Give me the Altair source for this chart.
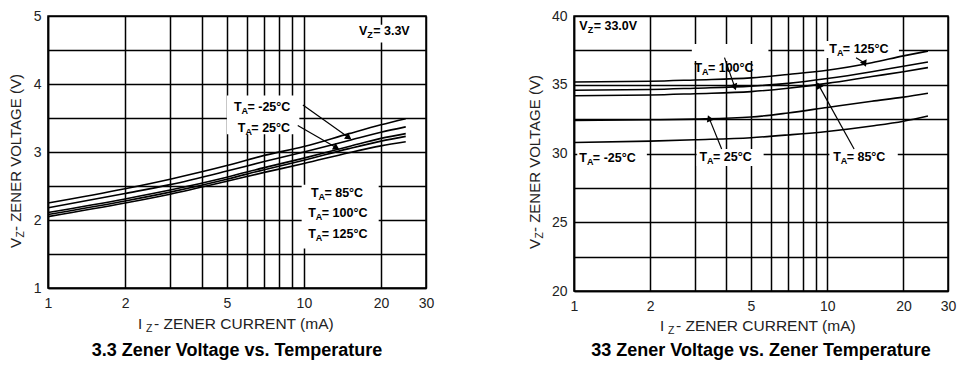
import altair as alt
import pandas as pd

F = "Liberation Sans"

# ---------------- data ----------------
current = [1, 2, 3, 5, 7, 10, 15, 20, 25]
temps = ["-25°C", "25°C", "85°C", "100°C", "125°C"]

# 3.3 V zener
v33_m25 = [2.25, 2.46, 2.60, 2.80, 2.95, 3.08, 3.27, 3.40, 3.49]
v33_25 = [2.18, 2.39, 2.52, 2.72, 2.86, 3.00, 3.17, 3.29, 3.37]
v33_85 = [2.11, 2.31, 2.44, 2.63, 2.77, 2.91, 3.08, 3.20, 3.27]
v33_100 = [2.08, 2.28, 2.41, 2.60, 2.74, 2.88, 3.05, 3.16, 3.23]
v33_125 = [2.05, 2.25, 2.38, 2.57, 2.70, 2.83, 2.99, 3.09, 3.15]

# 33 V zener
v330_m25 = [30.8, 30.9, 31.0, 31.15, 31.35, 31.6, 32.0, 32.35, 32.73]
v330_25 = [32.4, 32.45, 32.5, 32.65, 32.95, 33.35, 33.8, 34.1, 34.38]
v330_85 = [34.2, 34.25, 34.35, 34.5, 34.75, 35.1, 35.6, 35.95, 36.25]
v330_100 = [34.6, 34.65, 34.75, 34.9, 35.1, 35.45, 35.95, 36.35, 36.65]
v330_125 = [35.2, 35.25, 35.35, 35.5, 35.75, 36.05, 36.6, 37.1, 37.45]

x_ticks = [1, 2, 3, 4, 5, 6, 7, 8, 9, 10, 20, 30]
y_ticks_33 = [1, 1.5, 2, 2.5, 3, 3.5, 4, 4.5, 5]
y_ticks_330 = [20, 22.5, 25, 27.5, 30, 32.5, 35, 37.5, 40]

# annotation labels (left-anchored, data coordinates)
lab33_text = [" = -25°C", " = 25°C", " = 85°C", " = 100°C", "= 125°C"]
lab33_x = [5.33, 5.52, 10.65, 10.4, 10.4]
lab33_y = [3.66, 3.36, 2.39, 2.10, 1.80]
lab330_text = [" = -25°C", "= 25°C", "= 85°C", " = 100°C", " = 125°C"]
lab330_x = [1.05, 3.13, 10.56, 2.99, 10.2]
lab330_y = [29.7, 29.75, 29.75, 36.24, 37.58]

vz33 = {"x": 16.4, "y": 4.78, "rest": "= 3.3V"}
vz330 = {"x": 1.05, "y": 39.27, "rest": "= 33.0V"}

# white boxes behind labels
box33 = {"x": [5.0, 9.8, 15.97], "x2": [9.6, 19.6, 26.2],
         "y": [3.83, 2.52, 4.87], "y2": [3.26, 1.58, 4.61]}
box330 = {"x": [9.73, 2.92, 1.03, 3.05, 10.2], "x2": [19.2, 5.86, 1.94, 5.61, 19.0],
          "y": [38.18, 37.96, 30.33, 30.33, 30.33], "y2": [36.95, 36.73, 29.09, 29.09, 29.09]}

# arrows
arr33 = {"x": [9.91, 9.46], "y": [3.69, 3.39], "x2": [14.86, 13.3], "y2": [3.22, 3.07],
         "ang": [125, 120]}
arr330 = {"x": [13.0, 3.93, 12.77, 3.83], "y": [36.97, 36.97, 30.33, 30.33],
          "x2": [14.0, 4.3, 9.3, 3.43], "y2": [36.6, 34.9, 34.9, 32.5],
          "ang": [155, 160, 331, 338]}


def long_df(series):
    rows = []
    for t, vals in zip(temps, series):
        for c, v in zip(current, vals):
            rows.append({"I": c, "V": v, "T": t})
    return pd.DataFrame(rows)


AXSTYLE = dict(grid=True, ticks=False, title=None, labelOverlap=False, tickCount=50,
               gridColor="black", gridWidth=1.5, gridOpacity=1,
               domainColor="black", domainWidth=1.5,
               labelFont=F, labelFontSize=14, labelColor="#222")


def panel(series, ydom, yticks, ylabexpr, labels, vz, box, arr, title, W, H, ytx):
    xs = alt.Scale(type="log", domain=[1, 30], nice=False)
    ys = alt.Scale(domain=ydom, nice=False, zero=False)
    xax = alt.Axis(values=x_ticks,
                   labelExpr="(datum.value==1||datum.value==2||datum.value==5||datum.value==10||datum.value==20||datum.value==30) ? format(datum.value, 'd') : ''",
                   labelFlush=False, labelPadding=8, **AXSTYLE)
    yax = alt.Axis(values=yticks, labelExpr=ylabexpr, labelPadding=7, **AXSTYLE)

    lines = alt.Chart(long_df(series)).mark_line(
        color="black", strokeWidth=1.6, interpolate="monotone"
    ).encode(
        x=alt.X("I:Q", scale=xs, axis=xax),
        y=alt.Y("V:Q", scale=ys, axis=yax),
        detail="T:N",
    )

    boxes = alt.Chart(pd.DataFrame(box)).mark_rect(color="white").encode(
        x=alt.X("x:Q", scale=xs), x2="x2:Q", y=alt.Y("y:Q", scale=ys), y2="y2:Q"
    )

    adf = pd.DataFrame(arr)
    rules = alt.Chart(adf).mark_rule(color="black", strokeWidth=1.2).encode(
        x=alt.X("x:Q", scale=xs), y=alt.Y("y:Q", scale=ys), x2="x2:Q", y2="y2:Q"
    )
    heads = alt.Chart(adf).mark_point(
        shape="triangle", filled=True, color="black", size=55, opacity=1
    ).encode(
        x=alt.X("x2:Q", scale=xs), y=alt.Y("y2:Q", scale=ys),
        angle=alt.Angle("ang:Q", scale=None)
    )

    ldf = pd.DataFrame(labels)
    txt = dict(font=F, fontWeight="bold", align="left", baseline="middle", color="black")
    t_main = alt.Chart(ldf).mark_text(text="T", fontSize=12.5, **txt).encode(
        x=alt.X("x:Q", scale=xs), y=alt.Y("y:Q", scale=ys))
    t_sub = alt.Chart(ldf).mark_text(text="A", fontSize=9, dx=7.6, dy=4, **txt).encode(
        x=alt.X("x:Q", scale=xs), y=alt.Y("y:Q", scale=ys))
    t_rest = alt.Chart(ldf).mark_text(fontSize=12.5, dx=13.5, **txt).encode(
        x=alt.X("x:Q", scale=xs), y=alt.Y("y:Q", scale=ys), text="rest:N")

    vdf = pd.DataFrame([vz])
    v_main = alt.Chart(vdf).mark_text(text="V", fontSize=12.5, **txt).encode(
        x=alt.X("x:Q", scale=xs), y=alt.Y("y:Q", scale=ys))
    v_sub = alt.Chart(vdf).mark_text(text="Z", fontSize=9, dx=8.3, dy=4, **txt).encode(
        x=alt.X("x:Q", scale=xs), y=alt.Y("y:Q", scale=ys))
    v_rest = alt.Chart(vdf).mark_text(fontSize=12.5, dx=14.3, **txt).encode(
        x=alt.X("x:Q", scale=xs), y=alt.Y("y:Q", scale=ys), text="rest:N")

    one = pd.DataFrame({"k": [0]})
    ax = dict(font=F, color="#222", baseline="middle", align="left")
    # x axis title
    xt1 = alt.Chart(one).mark_text(text="I", fontSize=15, **ax).encode(
        x=alt.value(ytx["xt_x"]), y=alt.value(ytx["xt_y"]))
    xt2 = alt.Chart(one).mark_text(text="Z", fontSize=10.5, dx=8, dy=5, **ax).encode(
        x=alt.value(ytx["xt_x"]), y=alt.value(ytx["xt_y"]))
    xt3 = alt.Chart(one).mark_text(text="- ZENER CURRENT (mA)", fontSize=15.5, dx=16, **ax).encode(
        x=alt.value(ytx["xt_x"]), y=alt.value(ytx["xt_y"]))
    # y axis title (rotated)
    yt1 = alt.Chart(one).mark_text(text="V", fontSize=15, angle=270, **ax).encode(
        x=alt.value(ytx["yt_x"]), y=alt.value(ytx["yt_y"]))
    yt2 = alt.Chart(one).mark_text(text="Z", fontSize=10.5, angle=270, dx=10.5, dy=5, **ax).encode(
        x=alt.value(ytx["yt_x"]), y=alt.value(ytx["yt_y"]))
    yt3 = alt.Chart(one).mark_text(text="- ZENER VOLTAGE (V)", fontSize=15, angle=270, dx=17, **ax).encode(
        x=alt.value(ytx["yt_x"]), y=alt.value(ytx["yt_y"]))
    # chart title
    ttl = alt.Chart(one).mark_text(text=title, fontSize=18, fontWeight="bold", font=F,
                                   color="black", align="center", baseline="middle").encode(
        x=alt.value(W / 2), y=alt.value(ytx["tt_y"]))

    return alt.layer(
        boxes, lines, rules, heads, t_main, t_sub, t_rest, v_main, v_sub, v_rest,
        xt1, xt2, xt3, yt1, yt2, yt3, ttl
    ).properties(width=W, height=H)


left = panel(
    [v33_m25, v33_25, v33_85, v33_100, v33_125], [1, 5], y_ticks_33,
    "datum.value % 1 == 0 ? format(datum.value, 'd') : ''",
    {"x": lab33_x, "y": lab33_y, "rest": lab33_text}, vz33, box33, arr33,
    "3.3 Zener Voltage vs. Temperature", 378, 272,
    {"xt_x": 90, "xt_y": 308, "yt_x": -32, "yt_y": 232, "tt_y": 335},
)
right = panel(
    [v330_m25, v330_25, v330_85, v330_100, v330_125], [20, 40], y_ticks_330,
    "datum.value % 5 == 0 ? format(datum.value, 'd') : ''",
    {"x": lab330_x, "y": lab330_y, "rest": lab330_text}, vz330, box330, arr330,
    "33 Zener Voltage vs. Zener Temperature", 374, 275,
    {"xt_x": 86, "xt_y": 310, "yt_x": -39, "yt_y": 233, "tt_y": 335},
)

chart = alt.hconcat(left, right, spacing=92).properties(
    padding={"left": 0, "top": 0, "right": 0, "bottom": 0},
    background="white",
).configure_view(
    stroke="black", strokeWidth=1.5
)

chart.save("out.html", embed_options={"renderer": "svg", "actions": False})
